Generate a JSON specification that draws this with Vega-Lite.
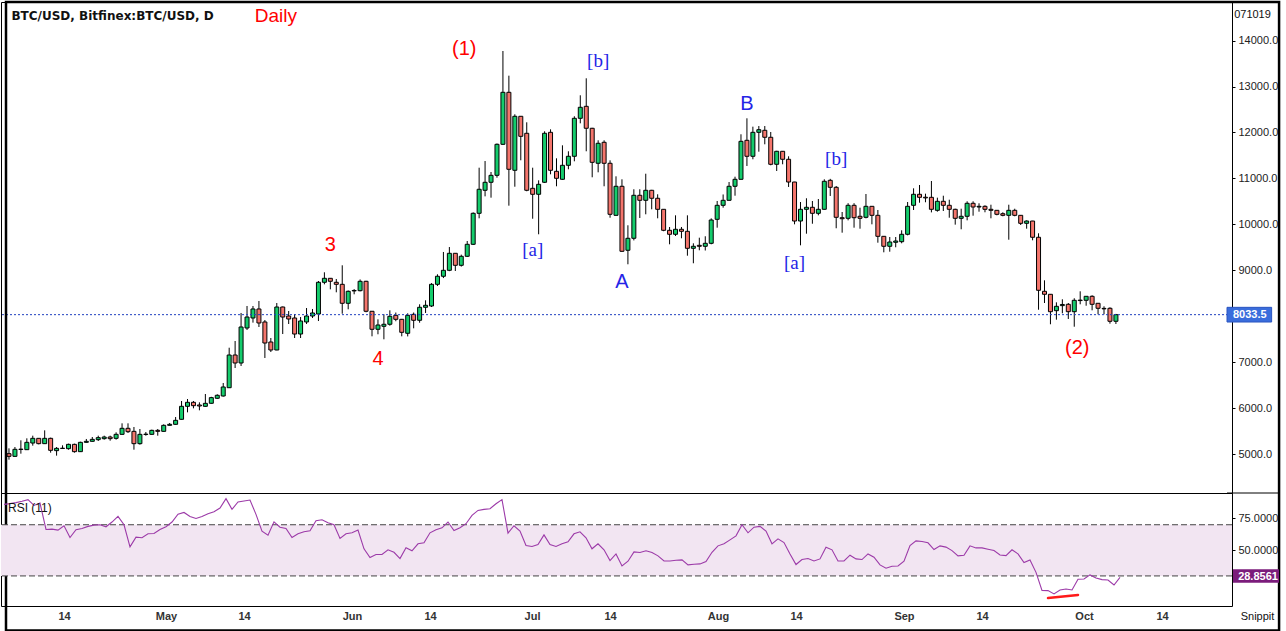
{
"$schema": "https://vega.github.io/schema/vega-lite/v6.json",
"background": "white",
"padding": {"left": 0, "top": 0, "right": 0, "bottom": 0},
"spacing": 0,
"bounds": "flush",
"config": {"font": "Liberation Sans", "view": {"stroke": "black", "strokeWidth": 1}, "axis": {"labelFont": "Liberation Sans", "titleFont": "Liberation Sans"}},
"datasets": {
"btc": [
{"date":"2019-04-04","open":5007,"high":5123,"low":4877,"close":4949,"rsi":85.9},
{"date":"2019-04-05","open":4949,"high":5152,"low":4940,"close":5102,"rsi":86.5},
{"date":"2019-04-06","open":5098,"high":5298,"low":5007,"close":5106,"rsi":87.3},
{"date":"2019-04-07","open":5094,"high":5341,"low":5090,"close":5254,"rsi":88.3},
{"date":"2019-04-08","open":5239,"high":5399,"low":5181,"close":5341,"rsi":89.6},
{"date":"2019-04-09","open":5341,"high":5345,"low":5210,"close":5225,"rsi":85.1},
{"date":"2019-04-10","open":5225,"high":5515,"low":5220,"close":5341,"rsi":86.9},
{"date":"2019-04-11","open":5341,"high":5356,"low":5029,"close":5080,"rsi":66.3},
{"date":"2019-04-12","open":5073,"high":5152,"low":4964,"close":5123,"rsi":66.6},
{"date":"2019-04-13","open":5120,"high":5189,"low":5116,"close":5126,"rsi":65.8},
{"date":"2019-04-14","open":5116,"high":5225,"low":5094,"close":5210,"rsi":69.2},
{"date":"2019-04-15","open":5210,"high":5225,"low":5029,"close":5051,"rsi":60.0},
{"date":"2019-04-16","open":5051,"high":5268,"low":5045,"close":5254,"rsi":66.1},
{"date":"2019-04-17","open":5254,"high":5327,"low":5250,"close":5276,"rsi":67.1},
{"date":"2019-04-18","open":5276,"high":5370,"low":5272,"close":5319,"rsi":68.7},
{"date":"2019-04-19","open":5312,"high":5399,"low":5283,"close":5356,"rsi":69.7},
{"date":"2019-04-20","open":5334,"high":5399,"low":5312,"close":5370,"rsi":70.0},
{"date":"2019-04-21","open":5370,"high":5399,"low":5290,"close":5334,"rsi":68.4},
{"date":"2019-04-22","open":5341,"high":5472,"low":5312,"close":5428,"rsi":72.1},
{"date":"2019-04-23","open":5428,"high":5668,"low":5420,"close":5559,"rsi":76.5},
{"date":"2019-04-24","open":5559,"high":5668,"low":5457,"close":5486,"rsi":70.0},
{"date":"2019-04-25","open":5493,"high":5588,"low":5094,"close":5225,"rsi":52.7},
{"date":"2019-04-26","open":5225,"high":5544,"low":5203,"close":5428,"rsi":60.3},
{"date":"2019-04-27","open":5425,"high":5479,"low":5399,"close":5432,"rsi":59.8},
{"date":"2019-04-28","open":5428,"high":5530,"low":5420,"close":5515,"rsi":62.9},
{"date":"2019-04-29","open":5515,"high":5544,"low":5399,"close":5493,"rsi":63.2},
{"date":"2019-04-30","open":5493,"high":5646,"low":5490,"close":5624,"rsi":66.3},
{"date":"2019-05-01","open":5624,"high":5675,"low":5620,"close":5646,"rsi":68.4},
{"date":"2019-05-02","open":5646,"high":5805,"low":5640,"close":5733,"rsi":72.1},
{"date":"2019-05-03","open":5755,"high":6154,"low":5750,"close":6038,"rsi":78.3},
{"date":"2019-05-04","open":6038,"high":6197,"low":5907,"close":6125,"rsi":79.6},
{"date":"2019-05-05","open":6125,"high":6154,"low":5994,"close":6052,"rsi":76.5},
{"date":"2019-05-06","open":6067,"high":6125,"low":5951,"close":6045,"rsi":74.9},
{"date":"2019-05-07","open":6038,"high":6306,"low":6030,"close":6103,"rsi":76.5},
{"date":"2019-05-08","open":6104,"high":6245,"low":6095,"close":6227,"rsi":78.6},
{"date":"2019-05-09","open":6213,"high":6300,"low":6200,"close":6278,"rsi":80.2},
{"date":"2019-05-10","open":6263,"high":6546,"low":6250,"close":6459,"rsi":83.1},
{"date":"2019-05-11","open":6443,"high":7314,"low":6440,"close":7155,"rsi":90.4},
{"date":"2019-05-12","open":7155,"high":7460,"low":6872,"close":6981,"rsi":82.0},
{"date":"2019-05-13","open":6981,"high":8070,"low":6916,"close":7765,"rsi":87.8},
{"date":"2019-05-14","open":7743,"high":8222,"low":7700,"close":7982,"rsi":88.5},
{"date":"2019-05-15","open":7961,"high":8222,"low":7860,"close":8157,"rsi":89.3},
{"date":"2019-05-16","open":8157,"high":8331,"low":7765,"close":7852,"rsi":78.1},
{"date":"2019-05-17","open":7874,"high":7917,"low":7090,"close":7416,"rsi":65.0},
{"date":"2019-05-18","open":7438,"high":7525,"low":7220,"close":7264,"rsi":61.8},
{"date":"2019-05-19","open":7264,"high":8287,"low":7260,"close":8200,"rsi":72.3},
{"date":"2019-05-20","open":8200,"high":8210,"low":7612,"close":7982,"rsi":68.1},
{"date":"2019-05-21","open":8004,"high":8113,"low":7830,"close":7939,"rsi":67.1},
{"date":"2019-05-22","open":7961,"high":8048,"low":7525,"close":7612,"rsi":60.0},
{"date":"2019-05-23","open":7612,"high":7982,"low":7525,"close":7896,"rsi":62.9},
{"date":"2019-05-24","open":7874,"high":8178,"low":7830,"close":8004,"rsi":64.5},
{"date":"2019-05-25","open":8004,"high":8157,"low":7961,"close":8070,"rsi":65.3},
{"date":"2019-05-26","open":8048,"high":8766,"low":7895,"close":8738,"rsi":73.1},
{"date":"2019-05-27","open":8738,"high":8956,"low":8694,"close":8825,"rsi":73.9},
{"date":"2019-05-28","open":8825,"high":8830,"low":8585,"close":8760,"rsi":71.6},
{"date":"2019-05-29","open":8738,"high":8810,"low":8520,"close":8694,"rsi":70.0},
{"date":"2019-05-30","open":8694,"high":9108,"low":8054,"close":8281,"rsi":59.3},
{"date":"2019-05-31","open":8281,"high":8560,"low":8150,"close":8542,"rsi":62.9},
{"date":"2019-06-01","open":8550,"high":8590,"low":8477,"close":8560,"rsi":63.7},
{"date":"2019-06-02","open":8555,"high":8800,"low":8540,"close":8760,"rsi":65.8},
{"date":"2019-06-03","open":8760,"high":8770,"low":8085,"close":8107,"rsi":51.2},
{"date":"2019-06-04","open":8107,"high":8110,"low":7562,"close":7715,"rsi":44.4},
{"date":"2019-06-05","open":7715,"high":7932,"low":7606,"close":7808,"rsi":46.7},
{"date":"2019-06-06","open":7780,"high":8041,"low":7497,"close":7824,"rsi":46.7},
{"date":"2019-06-07","open":7824,"high":8128,"low":7793,"close":7998,"rsi":50.4},
{"date":"2019-06-08","open":8019,"high":8080,"low":7890,"close":7932,"rsi":48.5},
{"date":"2019-06-09","open":7932,"high":7940,"low":7562,"close":7649,"rsi":43.6},
{"date":"2019-06-10","open":7628,"high":8063,"low":7560,"close":8019,"rsi":52.0},
{"date":"2019-06-11","open":8041,"high":8080,"low":7736,"close":7911,"rsi":49.6},
{"date":"2019-06-12","open":7911,"high":8259,"low":7858,"close":8194,"rsi":55.1},
{"date":"2019-06-13","open":8194,"high":8346,"low":8070,"close":8237,"rsi":55.9},
{"date":"2019-06-14","open":8222,"high":8720,"low":8200,"close":8694,"rsi":63.7},
{"date":"2019-06-15","open":8694,"high":8912,"low":8657,"close":8869,"rsi":66.1},
{"date":"2019-06-16","open":8869,"high":9398,"low":8830,"close":8999,"rsi":67.6},
{"date":"2019-06-17","open":8999,"high":9506,"low":8980,"close":9369,"rsi":72.1},
{"date":"2019-06-18","open":9369,"high":9369,"low":8984,"close":9108,"rsi":65.5},
{"date":"2019-06-19","open":9108,"high":9340,"low":9080,"close":9304,"rsi":67.6},
{"date":"2019-06-20","open":9304,"high":9637,"low":9290,"close":9565,"rsi":70.8},
{"date":"2019-06-21","open":9565,"high":10260,"low":9550,"close":10240,"rsi":77.3},
{"date":"2019-06-22","open":10240,"high":11233,"low":10131,"close":10763,"rsi":81.2},
{"date":"2019-06-23","open":10741,"high":11378,"low":10609,"close":10915,"rsi":82.0},
{"date":"2019-06-24","open":10915,"high":11139,"low":10580,"close":11067,"rsi":82.5},
{"date":"2019-06-25","open":11067,"high":11760,"low":11015,"close":11742,"rsi":86.4},
{"date":"2019-06-26","open":11742,"high":13773,"low":11727,"close":12874,"rsi":89.6},
{"date":"2019-06-27","open":12874,"high":13236,"low":10406,"close":11198,"rsi":63.4},
{"date":"2019-06-28","open":11176,"high":12395,"low":10819,"close":12352,"rsi":69.2},
{"date":"2019-06-29","open":12352,"high":12352,"low":11394,"close":11916,"rsi":65.0},
{"date":"2019-06-30","open":11982,"high":12221,"low":10720,"close":10741,"rsi":53.8},
{"date":"2019-07-01","open":10784,"high":11233,"low":10122,"close":10654,"rsi":53.0},
{"date":"2019-07-02","open":10654,"high":10958,"low":9783,"close":10871,"rsi":54.5},
{"date":"2019-07-03","open":10915,"high":12025,"low":10900,"close":11982,"rsi":62.1},
{"date":"2019-07-04","open":12003,"high":12068,"low":11089,"close":11176,"rsi":54.5},
{"date":"2019-07-05","open":11154,"high":11437,"low":10828,"close":11002,"rsi":53.0},
{"date":"2019-07-06","open":10980,"high":11720,"low":10970,"close":11285,"rsi":55.1},
{"date":"2019-07-07","open":11285,"high":11590,"low":11198,"close":11481,"rsi":56.6},
{"date":"2019-07-08","open":11481,"high":12352,"low":11372,"close":12308,"rsi":62.9},
{"date":"2019-07-09","open":12308,"high":12809,"low":12199,"close":12548,"rsi":64.5},
{"date":"2019-07-10","open":12569,"high":13179,"low":11590,"close":12091,"rsi":59.8},
{"date":"2019-07-11","open":12091,"high":12100,"low":11024,"close":11350,"rsi":51.2},
{"date":"2019-07-12","open":11329,"high":11829,"low":11132,"close":11764,"rsi":55.1},
{"date":"2019-07-13","open":11786,"high":11829,"low":10828,"close":11329,"rsi":50.4},
{"date":"2019-07-14","open":11329,"high":11393,"low":10144,"close":10218,"rsi":42.0},
{"date":"2019-07-15","open":10196,"high":11045,"low":10190,"close":10828,"rsi":47.2},
{"date":"2019-07-16","open":10828,"high":10980,"low":9400,"close":9413,"rsi":37.8},
{"date":"2019-07-17","open":9435,"high":9979,"low":9130,"close":9696,"rsi":41.5},
{"date":"2019-07-18","open":9696,"high":10763,"low":9650,"close":10632,"rsi":48.8},
{"date":"2019-07-19","open":10632,"high":10763,"low":10138,"close":10523,"rsi":48.3},
{"date":"2019-07-20","open":10523,"high":11102,"low":10218,"close":10741,"rsi":49.6},
{"date":"2019-07-21","open":10741,"high":10750,"low":10327,"close":10567,"rsi":48.3},
{"date":"2019-07-22","open":10567,"high":10654,"low":10131,"close":10327,"rsi":45.7},
{"date":"2019-07-23","open":10327,"high":10330,"low":9850,"close":9870,"rsi":41.7},
{"date":"2019-07-24","open":9870,"high":9942,"low":9565,"close":9783,"rsi":41.7},
{"date":"2019-07-25","open":9783,"high":10196,"low":9746,"close":9892,"rsi":42.3},
{"date":"2019-07-26","open":9892,"high":9942,"low":9696,"close":9848,"rsi":42.5},
{"date":"2019-07-27","open":9848,"high":10196,"low":9317,"close":9478,"rsi":38.6},
{"date":"2019-07-28","open":9478,"high":9587,"low":9152,"close":9522,"rsi":39.1},
{"date":"2019-07-29","open":9543,"high":9709,"low":9435,"close":9522,"rsi":39.4},
{"date":"2019-07-30","open":9522,"high":9740,"low":9430,"close":9587,"rsi":41.2},
{"date":"2019-07-31","open":9587,"high":10130,"low":9565,"close":10094,"rsi":48.5},
{"date":"2019-08-01","open":10109,"high":10508,"low":9927,"close":10414,"rsi":53.5},
{"date":"2019-08-02","open":10414,"high":10650,"low":10362,"close":10523,"rsi":55.1},
{"date":"2019-08-03","open":10523,"high":10921,"low":10520,"close":10828,"rsi":58.2},
{"date":"2019-08-04","open":10828,"high":11037,"low":10623,"close":10980,"rsi":61.3},
{"date":"2019-08-05","open":10980,"high":11960,"low":10975,"close":11807,"rsi":70.0},
{"date":"2019-08-06","open":11829,"high":12308,"low":11270,"close":11481,"rsi":63.7},
{"date":"2019-08-07","open":11481,"high":12126,"low":11416,"close":12003,"rsi":68.1},
{"date":"2019-08-08","open":12003,"high":12140,"low":11581,"close":12060,"rsi":68.7},
{"date":"2019-08-09","open":12047,"high":12140,"low":11742,"close":11895,"rsi":65.0},
{"date":"2019-08-10","open":11895,"high":12010,"low":11285,"close":11307,"rsi":55.1},
{"date":"2019-08-11","open":11307,"high":11600,"low":11161,"close":11590,"rsi":59.0},
{"date":"2019-08-12","open":11590,"high":11595,"low":11307,"close":11416,"rsi":56.1},
{"date":"2019-08-13","open":11416,"high":11481,"low":10813,"close":10921,"rsi":47.2},
{"date":"2019-08-14","open":10921,"high":10925,"low":10000,"close":10072,"rsi":38.9},
{"date":"2019-08-15","open":10072,"high":10486,"low":9543,"close":10327,"rsi":42.8},
{"date":"2019-08-16","open":10327,"high":10567,"low":9796,"close":10371,"rsi":43.6},
{"date":"2019-08-17","open":10371,"high":10508,"low":10013,"close":10240,"rsi":41.7},
{"date":"2019-08-18","open":10240,"high":10551,"low":10196,"close":10327,"rsi":43.3},
{"date":"2019-08-19","open":10327,"high":10980,"low":10320,"close":10937,"rsi":52.5},
{"date":"2019-08-20","open":10958,"high":10990,"low":10617,"close":10806,"rsi":50.4},
{"date":"2019-08-21","open":10806,"high":10834,"low":9914,"close":10153,"rsi":41.7},
{"date":"2019-08-22","open":10144,"high":10268,"low":9818,"close":10122,"rsi":41.7},
{"date":"2019-08-23","open":10131,"high":10460,"low":10087,"close":10414,"rsi":46.2},
{"date":"2019-08-24","open":10414,"high":10460,"low":9927,"close":10144,"rsi":43.3},
{"date":"2019-08-25","open":10175,"high":10362,"low":9905,"close":10131,"rsi":42.8},
{"date":"2019-08-26","open":10153,"high":10660,"low":10130,"close":10392,"rsi":47.2},
{"date":"2019-08-27","open":10392,"high":10395,"low":10000,"close":10196,"rsi":44.6},
{"date":"2019-08-28","open":10196,"high":10312,"low":9600,"close":9739,"rsi":38.6},
{"date":"2019-08-29","open":9739,"high":9745,"low":9391,"close":9522,"rsi":36.0},
{"date":"2019-08-30","open":9522,"high":9724,"low":9404,"close":9615,"rsi":37.6},
{"date":"2019-08-31","open":9609,"high":9724,"low":9500,"close":9637,"rsi":37.8},
{"date":"2019-09-01","open":9622,"high":9870,"low":9587,"close":9783,"rsi":41.5},
{"date":"2019-09-02","open":9783,"high":10486,"low":9760,"close":10392,"rsi":53.8},
{"date":"2019-09-03","open":10414,"high":10784,"low":10312,"close":10654,"rsi":57.4},
{"date":"2019-09-04","open":10654,"high":10856,"low":10471,"close":10588,"rsi":56.9},
{"date":"2019-09-05","open":10590,"high":10667,"low":10480,"close":10575,"rsi":55.9},
{"date":"2019-09-06","open":10588,"high":10943,"low":10260,"close":10327,"rsi":50.6},
{"date":"2019-09-07","open":10305,"high":10580,"low":10275,"close":10501,"rsi":53.5},
{"date":"2019-09-08","open":10501,"high":10623,"low":10290,"close":10414,"rsi":52.5},
{"date":"2019-09-09","open":10414,"high":10536,"low":10144,"close":10327,"rsi":49.8},
{"date":"2019-09-10","open":10327,"high":10340,"low":9993,"close":10131,"rsi":45.7},
{"date":"2019-09-11","open":10131,"high":10340,"low":9892,"close":10175,"rsi":46.2},
{"date":"2019-09-12","open":10175,"high":10501,"low":10087,"close":10458,"rsi":53.5},
{"date":"2019-09-13","open":10458,"high":10501,"low":10188,"close":10377,"rsi":51.9},
{"date":"2019-09-14","open":10377,"high":10458,"low":10275,"close":10392,"rsi":51.9},
{"date":"2019-09-15","open":10392,"high":10414,"low":10262,"close":10327,"rsi":50.9},
{"date":"2019-09-16","open":10327,"high":10427,"low":10131,"close":10305,"rsi":49.8},
{"date":"2019-09-17","open":10305,"high":10310,"low":10196,"close":10218,"rsi":46.4},
{"date":"2019-09-18","open":10231,"high":10262,"low":10175,"close":10196,"rsi":45.9},
{"date":"2019-09-19","open":10196,"high":10427,"low":9665,"close":10305,"rsi":50.4},
{"date":"2019-09-20","open":10305,"high":10340,"low":10175,"close":10196,"rsi":47.2},
{"date":"2019-09-21","open":10196,"high":10200,"low":9985,"close":10022,"rsi":40.4},
{"date":"2019-09-22","open":10022,"high":10087,"low":9905,"close":10072,"rsi":42.5},
{"date":"2019-09-23","open":10072,"high":10075,"low":9652,"close":9718,"rsi":32.8},
{"date":"2019-09-24","open":9718,"high":9805,"low":8141,"close":8564,"rsi":18.7},
{"date":"2019-09-25","open":8542,"high":8781,"low":8287,"close":8477,"rsi":18.5},
{"date":"2019-09-26","open":8477,"high":8480,"low":7824,"close":8098,"rsi":15.9},
{"date":"2019-09-27","open":8120,"high":8302,"low":7924,"close":8215,"rsi":19.0},
{"date":"2019-09-28","open":8230,"high":8368,"low":8063,"close":8255,"rsi":19.8},
{"date":"2019-09-29","open":8259,"high":8287,"low":7939,"close":8098,"rsi":19.0},
{"date":"2019-09-30","open":8098,"high":8390,"low":7771,"close":8346,"rsi":27.4},
{"date":"2019-10-01","open":8340,"high":8542,"low":8259,"close":8350,"rsi":27.6},
{"date":"2019-10-02","open":8346,"high":8433,"low":8228,"close":8433,"rsi":30.8},
{"date":"2019-10-03","open":8433,"high":8455,"low":8128,"close":8259,"rsi":28.4},
{"date":"2019-10-04","open":8281,"high":8285,"low":8041,"close":8172,"rsi":27.1},
{"date":"2019-10-05","open":8170,"high":8215,"low":8041,"close":8160,"rsi":26.8},
{"date":"2019-10-06","open":8172,"high":8194,"low":7837,"close":7889,"rsi":22.9},
{"date":"2019-10-07","open":7889,"high":8050,"low":7830,"close":8033.5,"rsi":28.8561}
],
"notes": [
{"date":"2019-06-19T12:00:00Z","price":13817,"label":"(1)","group":"wave"},
{"date":"2019-05-28","price":9550,"label":"3","group":"wave"},
{"date":"2019-06-05","price":7068,"label":"4","group":"wave"},
{"date":"2019-09-30T12:00:00Z","price":7308,"label":"(2)","group":"wave"},
{"date":"2019-07-12","price":13556,"label":"[b]","group":"sub"},
{"date":"2019-07-01","price":9441,"label":"[a]","group":"sub"},
{"date":"2019-08-14","price":9158,"label":"[a]","group":"sub"},
{"date":"2019-08-21","price":11422,"label":"[b]","group":"sub"},
{"date":"2019-07-16","price":8745,"label":"A","group":"abc"},
{"date":"2019-08-06","price":12620,"label":"B","group":"abc"}
],
"one": [{}]
},
"vconcat": [
{
"width": 1231,
"height": 491,
"layer": [
{"data": {"name": "btc"}, "mark": {"type": "rule", "color": "black", "strokeWidth": 1},
 "encoding": {
  "x": {"field": "date", "type": "temporal", "scale": {"type": "utc", "domain": [{"year":2019,"month":4,"date":3,"hours":12,"utc":true},{"year":2019,"month":10,"date":25,"hours":16,"utc":true}]}, "axis": null},
  "y": {"field": "low", "type": "quantitative", "scale": {"domain": [4151, 14840], "nice": false, "zero": false},
        "axis": {"orient": "right", "values": [5000,6000,7000,9000,10000,11000,12000,13000,14000], "format": ".1f", "title": "071019", "titleAngle": 0, "titleX": 20, "titleY": 12, "titleAlign": "center", "titleBaseline": "middle", "titleFontWeight": "normal", "titleFontSize": 11, "titleColor": "#111", "grid": false, "domain": false, "tickSize": 3, "tickColor": "black", "labelPadding": 3, "labelFontSize": 11, "labelColor": "#222"}},
  "y2": {"field": "high"}}},
{"data": {"name": "btc"}, "mark": {"type": "bar", "size": 4, "stroke": "black", "strokeWidth": 1},
 "encoding": {
  "x": {"field": "date", "type": "temporal", "axis": null},
  "y": {"field": "open", "type": "quantitative"},
  "y2": {"field": "close"},
  "color": {"condition": {"test": "datum.close >= datum.open", "value": "#14cc6c"}, "value": "#f4756c"}}},
{"data": {"name": "btc"},
 "transform": [{"window": [{"op": "row_number", "as": "rk"}], "sort": [{"field": "date", "order": "descending"}]}, {"filter": "datum.rk == 1"}],
 "mark": {"type": "rule", "color": "#1f3fbf", "strokeDash": [2, 2], "strokeWidth": 1},
 "encoding": {"y": {"field": "close", "type": "quantitative"}}},
{"data": {"name": "notes"}, "transform": [{"filter": "datum.group == 'wave'"}],
 "mark": {"type": "text", "color": "#ff0000", "fontSize": 20, "font": "Liberation Sans", "baseline": "middle"},
 "encoding": {"x": {"field": "date", "type": "temporal", "axis": null}, "y": {"field": "price", "type": "quantitative"}, "text": {"field": "label"}}},
{"data": {"name": "notes"}, "transform": [{"filter": "datum.group == 'sub'"}],
 "mark": {"type": "text", "color": "#2424e6", "fontSize": 19, "font": "Liberation Serif", "baseline": "middle"},
 "encoding": {"x": {"field": "date", "type": "temporal", "axis": null}, "y": {"field": "price", "type": "quantitative"}, "text": {"field": "label"}}},
{"data": {"name": "notes"}, "transform": [{"filter": "datum.group == 'abc'"}],
 "mark": {"type": "text", "color": "#2424e6", "fontSize": 20, "font": "Liberation Sans", "baseline": "middle"},
 "encoding": {"x": {"field": "date", "type": "temporal", "axis": null}, "y": {"field": "price", "type": "quantitative"}, "text": {"field": "label"}}},
{"data": {"name": "one"}, "mark": {"type": "text", "align": "left", "baseline": "middle", "fontSize": 12, "fontWeight": "bold", "font": "DejaVu Sans", "color": "#111"},
 "encoding": {"x": {"datum": {"year":2019,"month":4,"date":4,"hours":10,"utc":true}, "type": "temporal", "axis": null}, "y": {"datum": 14535, "type": "quantitative"}, "text": {"value": "BTC/USD, Bitfinex:BTC/USD, D"}}},
{"data": {"name": "one"}, "mark": {"type": "text", "align": "center", "baseline": "middle", "fontSize": 19, "color": "#ff0000"},
 "encoding": {"x": {"datum": {"year":2019,"month":5,"date":18,"hours":20,"utc":true}, "type": "temporal", "axis": null}, "y": {"datum": 14535, "type": "quantitative"}, "text": {"value": "Daily"}}},
{"data": {"name": "one"}, "mark": {"type": "rect", "color": "#3a6ddc", "stroke": "#2a55c0", "strokeWidth": 1},
 "encoding": {"x": {"datum": {"year":2019,"month":10,"date":25,"hours":16,"utc":true}, "type": "temporal", "axis": null}, "x2": {"datum": {"year":2019,"month":11,"date":2,"hours":4,"utc":true}}, "y": {"datum": 7873, "type": "quantitative"}, "y2": {"datum": 8193}}},
{"data": {"name": "btc"},
 "transform": [{"window": [{"op": "row_number", "as": "rk"}], "sort": [{"field": "date", "order": "descending"}]}, {"filter": "datum.rk == 1"}],
 "mark": {"type": "text", "align": "center", "baseline": "middle", "fontSize": 11, "fontWeight": "bold", "color": "white"},
 "encoding": {"x": {"datum": {"year":2019,"month":10,"date":29,"hours":12,"utc":true}, "type": "temporal", "axis": null}, "y": {"field": "close", "type": "quantitative"}, "text": {"field": "close", "type": "quantitative", "format": ".1f"}}},
{"data": {"name": "one"}, "mark": {"type": "rule", "color": "black", "strokeWidth": 1},
 "encoding": {"x": {"datum": {"year":2019,"month":10,"date":25,"hours":16,"utc":true}, "type": "temporal", "axis": null}, "x2": {"datum": {"year":2019,"month":11,"date":3,"hours":10,"utc":true}}, "y": {"datum": 4151, "type": "quantitative"}}},
{"data": {"name": "one"}, "mark": {"type": "rect", "filled": false, "color": "black", "strokeWidth": 2.5},
 "encoding": {"x": {"datum": {"year":2019,"month":4,"date":3,"hours":12,"utc":true}, "type": "temporal", "axis": null}, "x2": {"datum": {"year":2019,"month":11,"date":3,"hours":10,"utc":true}}, "y": {"datum": 14840, "type": "quantitative"}, "y2": {"datum": 1158}}}
]
},
{
"width": 1231,
"height": 113,
"layer": [
{"data": {"name": "one"}, "mark": {"type": "rect", "color": "#f2e5f2"},
 "encoding": {"y": {"datum": 30, "type": "quantitative", "scale": {"domain": [6.5, 94.8], "nice": false, "zero": false},
   "axis": {"orient": "right", "values": [50, 75], "format": ".4f", "title": null, "grid": false, "domain": false, "tickSize": 3, "tickColor": "black", "labelPadding": 3, "labelFontSize": 11, "labelColor": "#222"}},
  "y2": {"datum": 70}}},
{"data": {"name": "one"}, "mark": {"type": "rule", "color": "#444444", "strokeDash": [6, 3], "strokeWidth": 1},
 "encoding": {"y": {"datum": 70, "type": "quantitative"}}},
{"data": {"name": "one"}, "mark": {"type": "rule", "color": "#444444", "strokeDash": [6, 3], "strokeWidth": 1},
 "encoding": {"y": {"datum": 30, "type": "quantitative"}}},
{"data": {"name": "btc"}, "mark": {"type": "line", "color": "#9c3aa8", "strokeWidth": 1.1},
 "encoding": {
  "x": {"field": "date", "type": "temporal", "scale": {"type": "utc", "domain": [{"year":2019,"month":4,"date":3,"hours":12,"utc":true},{"year":2019,"month":10,"date":25,"hours":16,"utc":true}]},
        "axis": {"orient": "bottom", "values": [{"year":2019,"month":4,"date":14,"utc":true},{"year":2019,"month":5,"date":1,"utc":true},{"year":2019,"month":5,"date":14,"utc":true},{"year":2019,"month":6,"date":1,"utc":true},{"year":2019,"month":6,"date":14,"utc":true},{"year":2019,"month":7,"date":1,"utc":true},{"year":2019,"month":7,"date":14,"utc":true},{"year":2019,"month":8,"date":1,"utc":true},{"year":2019,"month":8,"date":14,"utc":true},{"year":2019,"month":9,"date":1,"utc":true},{"year":2019,"month":9,"date":14,"utc":true},{"year":2019,"month":10,"date":1,"utc":true},{"year":2019,"month":10,"date":14,"utc":true}],
          "labelExpr": "utcdate(datum.value) == 1 ? utcFormat(datum.value, '%b') : utcFormat(datum.value, '%d')",
          "title": "Snippit", "titleX": 1256, "titleY": 10, "titleAlign": "center", "titleBaseline": "middle", "titleFontWeight": "normal", "titleFontSize": 11, "titleColor": "#111",
          "grid": false, "domain": false, "ticks": false, "tickSize": 0, "labelPadding": 4, "labelFontWeight": "bold", "labelFontSize": 11, "labelColor": "#333", "labelFlush": false, "labelOverlap": false}},
  "y": {"field": "rsi", "type": "quantitative"}}},
{"data": {"name": "one"}, "mark": {"type": "rule", "color": "#ff1a1a", "strokeWidth": 2.5, "strokeCap": "round"},
 "encoding": {"x": {"datum": {"year":2019,"month":9,"date":25,"utc":true}, "type": "temporal"}, "x2": {"datum": {"year":2019,"month":9,"date":30,"utc":true}}, "y": {"datum": 12.7, "type": "quantitative"}, "y2": {"datum": 15.1}}},
{"data": {"name": "one"}, "mark": {"type": "text", "align": "left", "baseline": "middle", "fontSize": 12, "color": "#111"},
 "encoding": {"x": {"datum": {"year":2019,"month":4,"date":4,"hours":16,"utc":true}, "type": "temporal"}, "y": {"datum": 82.8, "type": "quantitative"}, "text": {"value": "RSI (11)"}}},
{"data": {"name": "one"}, "mark": {"type": "rect", "color": "#7b1c7b"},
 "encoding": {"x": {"datum": {"year":2019,"month":10,"date":25,"hours":20,"utc":true}, "type": "temporal"}, "x2": {"datum": {"year":2019,"month":11,"date":2,"hours":12,"utc":true}}, "y": {"datum": 24.7, "type": "quantitative"}, "y2": {"datum": 35.2}}},
{"data": {"name": "btc"},
 "transform": [{"window": [{"op": "row_number", "as": "rk"}], "sort": [{"field": "date", "order": "descending"}]}, {"filter": "datum.rk == 1"}],
 "mark": {"type": "text", "align": "center", "baseline": "middle", "fontSize": 11, "fontWeight": "bold", "color": "white"},
 "encoding": {"x": {"datum": {"year":2019,"month":10,"date":30,"utc":true}, "type": "temporal"}, "y": {"field": "rsi", "type": "quantitative"}, "text": {"field": "rsi", "type": "quantitative", "format": ".4f"}}}
]
}
]
}
